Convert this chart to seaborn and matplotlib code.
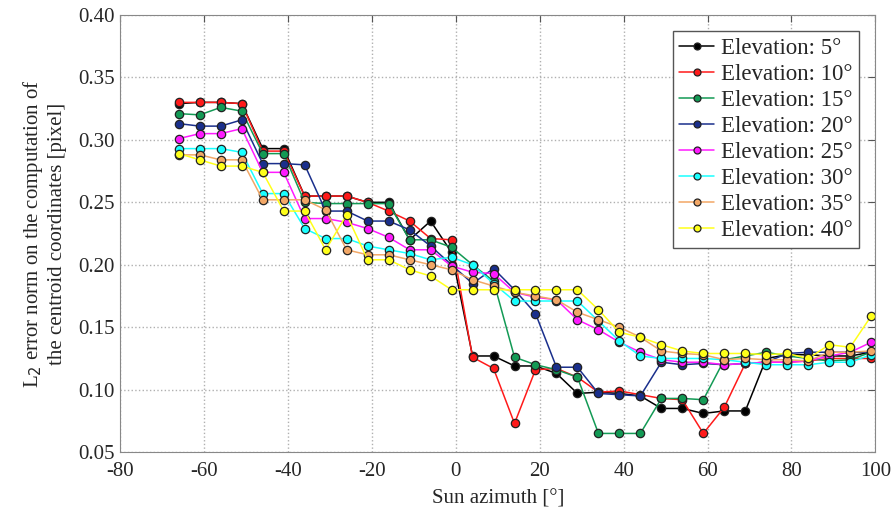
import matplotlib
matplotlib.use('Agg')
import matplotlib.pyplot as plt
import seaborn as sns
import pandas as pd

# sun azimuth [deg] of the sampled positions
azimuth = [-66, -61, -56, -51, -46, -41, -36, -31, -26, -21, -16, -11, -6, -1,
           4, 9, 14, 19, 24, 29, 34, 39, 44, 49, 54, 59, 64, 69, 74, 79, 84, 89, 94, 99]

elev_5 = [0.329, 0.330, 0.330, 0.329, 0.293, 0.293, 0.255, 0.255, 0.255, 0.250, 0.250, 0.220,
          0.235, 0.210, 0.127, 0.127, 0.119, 0.119, 0.113, 0.097, 0.098, 0.097, 0.095, 0.085,
          0.085, 0.081, 0.083, 0.083, 0.125, 0.128, 0.128, 0.127, 0.127, 0.130]
elev_10 = [0.330, 0.330, 0.330, 0.329, 0.291, 0.291, 0.255, 0.255, 0.255, 0.250, 0.243, 0.235,
           0.221, 0.220, 0.126, 0.117, 0.073, 0.116, 0.117, 0.110, 0.098, 0.099, 0.096, 0.093,
           0.092, 0.065, 0.086, 0.121, 0.122, 0.122, 0.123, 0.125, 0.125, 0.125]
elev_15 = [0.321, 0.320, 0.326, 0.323, 0.289, 0.289, 0.250, 0.249, 0.249, 0.249, 0.249, 0.220,
           0.220, 0.214, 0.200, 0.187, 0.126, 0.120, 0.116, 0.110, 0.065, 0.065, 0.065, 0.093,
           0.093, 0.092, 0.124, 0.127, 0.130, 0.127, 0.125, 0.123, 0.124, 0.130]
elev_20 = [0.313, 0.311, 0.311, 0.316, 0.281, 0.281, 0.280, 0.243, 0.243, 0.235, 0.235, 0.228,
           0.215, 0.200, 0.185, 0.197, 0.180, 0.161, 0.118, 0.118, 0.097, 0.096, 0.095, 0.122,
           0.120, 0.121, 0.120, 0.121, 0.122, 0.129, 0.130, 0.130, 0.130, 0.130]
elev_25 = [0.301, 0.305, 0.305, 0.309, 0.274, 0.274, 0.237, 0.237, 0.234, 0.229, 0.222, 0.212,
           0.212, 0.199, 0.194, 0.193, 0.178, 0.174, 0.172, 0.156, 0.148, 0.138, 0.130, 0.124,
           0.122, 0.122, 0.120, 0.121, 0.122, 0.122, 0.123, 0.127, 0.130, 0.138]
elev_30 = [0.293, 0.293, 0.293, 0.290, 0.257, 0.257, 0.229, 0.221, 0.221, 0.215, 0.212, 0.209,
           0.204, 0.206, 0.200, 0.185, 0.171, 0.171, 0.171, 0.171, 0.155, 0.139, 0.127, 0.125,
           0.125, 0.125, 0.124, 0.122, 0.120, 0.120, 0.120, 0.122, 0.122, 0.128]
elev_35 = [0.288, 0.288, 0.284, 0.284, 0.252, 0.252, 0.252, 0.244, 0.212, 0.208, 0.208, 0.204,
           0.200, 0.196, 0.188, 0.183, 0.178, 0.175, 0.172, 0.162, 0.156, 0.150, 0.142, 0.131,
           0.129, 0.128, 0.124, 0.125, 0.124, 0.124, 0.123, 0.130, 0.130, 0.131]
elev_40 = [0.289, 0.284, 0.279, 0.279, 0.274, 0.243, 0.243, 0.212, 0.240, 0.204, 0.204, 0.196,
           0.191, 0.180, 0.180, 0.180, 0.180, 0.180, 0.180, 0.180, 0.164, 0.146, 0.142, 0.136,
           0.131, 0.129, 0.129, 0.129, 0.128, 0.129, 0.125, 0.136, 0.134, 0.159]

labels = ['Elevation: 5°', 'Elevation: 10°', 'Elevation: 15°', 'Elevation: 20°',
          'Elevation: 25°', 'Elevation: 30°', 'Elevation: 35°', 'Elevation: 40°']
series = [elev_5, elev_10, elev_15, elev_20, elev_25, elev_30, elev_35, elev_40]
colors = ['#000000', '#ff1a1a', '#139a55', '#1a2f8c', '#ff1aff', '#1affff', '#f2a766', '#ffff1a']

rows = []
for lab, vals in zip(labels, series):
    for az, v in zip(azimuth, vals):
        rows.append({'azimuth': az, 'error': v, 'elevation': lab})
df = pd.DataFrame(rows)

sns.set_style('white')
plt.rcParams['font.family'] = ['Liberation Serif', 'DejaVu Serif']
plt.rcParams['axes.unicode_minus'] = False

fig, ax = plt.subplots(figsize=(8.96, 5.15), dpi=100)
fig.subplots_adjust(left=0.134, right=0.977, top=0.971, bottom=0.122)

sns.lineplot(data=df, x='azimuth', y='error', hue='elevation', hue_order=labels,
             palette=colors, estimator=None, sort=False, marker='o', markersize=6,
             markeredgecolor='#222222', markeredgewidth=0.9, linewidth=1.1, ax=ax)

ax.set_xlim(-80, 100)
ax.set_ylim(0.05, 0.40)
ax.set_xticks(range(-80, 101, 20))
ax.set_yticks([0.05, 0.10, 0.15, 0.20, 0.25, 0.30, 0.35, 0.40])
ax.set_yticklabels(['0.05', '0.10', '0.15', '0.20', '0.25', '0.30', '0.35', '0.40'])
ax.tick_params(direction='in', length=5, top=True, right=True, labelsize=15,
               color='#555555', pad=4)
ax.tick_params(axis='x', pad=7)
ax.grid(True, linestyle=':', color='#b0b0b0', linewidth=1)
for s in ax.spines.values():
    s.set_color('#888888')

ax.set_xlabel('Sun azimuth [°]', fontsize=15, labelpad=6)
ax.set_ylabel('L$_2$ error norm on the computation of\nthe centroid coordinates [pixel]',
              fontsize=15, labelpad=8)

leg = ax.legend(loc='upper right', fontsize=16.5, frameon=True, fancybox=False,
                handlelength=1.5, handletextpad=0.3, borderpad=0.3, labelspacing=0.22,
                borderaxespad=0.7)
leg.get_frame().set_edgecolor('#555555')
leg.get_frame().set_linewidth(1)
leg.get_frame().set_alpha(1)
for h in leg.legend_handles:
    h.set_markersize(5)

fig.savefig('out.png', dpi=100)
